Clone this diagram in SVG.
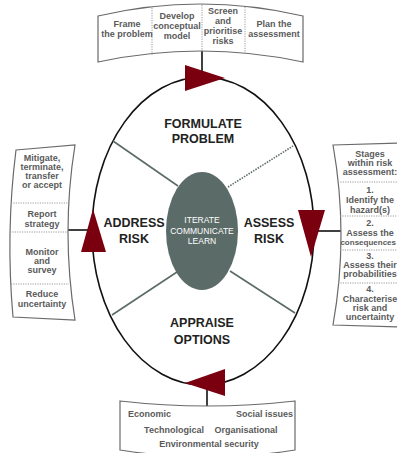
<svg xmlns="http://www.w3.org/2000/svg" width="397" height="453" viewBox="0 0 397 453">
<style>
.box{fill:#fff;stroke:#6a6a6a;stroke-width:1.2}
.dv{stroke:#9a9a9a;stroke-width:1;stroke-dasharray:1.2 1.2;fill:none}
.bt{font-family:"Liberation Sans",Arial,sans-serif;font-weight:bold;font-size:9px;fill:#5a5a5a;text-anchor:middle}
.big{font-family:"Liberation Sans",Arial,sans-serif;font-weight:bold;font-size:12.5px;fill:#222;text-anchor:middle}
.it{font-family:"Liberation Sans",Arial,sans-serif;font-size:8.5px;fill:#fff;text-anchor:middle}
.arrow{fill:#7a0010}
.spoke{stroke:#5b6b68;stroke-width:1.6}
.ln{stroke:#111;stroke-width:1.6}
</style>
<rect width="397" height="453" fill="#fff"/>
<g id="connectors">
<line class="ln" x1="202" y1="50" x2="202" y2="78"/>
<line class="ln" x1="207" y1="384" x2="207" y2="406"/>
<line class="ln" x1="66" y1="230" x2="92" y2="230"/>
<line class="ln" x1="316" y1="231" x2="342" y2="231"/>
</g>
<g id="cycle">
<ellipse cx="203" cy="231" rx="111" ry="154" fill="none" stroke="#111" stroke-width="1.6"/>
<line class="spoke" x1="113" y1="141" x2="178" y2="186"/>
<line class="spoke" x1="228" y1="187" x2="293" y2="146" stroke-dasharray="1.5 1.2"/>
<line class="spoke" x1="112" y1="315" x2="177" y2="272"/>
<line class="spoke" x1="230" y1="271" x2="295" y2="313"/>
</g>
<g id="centre">
<ellipse cx="202" cy="231" rx="36" ry="59" fill="#5b6b68"/>
<text class="it" x="202" y="223">ITERATE</text>
<text class="it" x="202" y="234">COMMUNICATE</text>
<text class="it" x="202" y="244">LEARN</text>
</g>
<g id="formulate"><text class="big" x="203" y="128">FORMULATE</text><text class="big" x="203" y="143">PROBLEM</text></g>
<g id="address"><text class="big" x="134" y="227">ADDRESS</text><text class="big" x="134" y="243">RISK</text></g>
<g id="assess"><text class="big" x="269" y="227">ASSESS</text><text class="big" x="269" y="243">RISK</text></g>
<g id="appraise"><text class="big" x="202" y="327">APPRAISE</text><text class="big" x="202" y="344">OPTIONS</text></g>
<g id="arrows">
<polygon class="arrow" points="185,65 185,91 225,78"/>
<polygon class="arrow" points="298,210 325,210 311,257"/>
<polygon class="arrow" points="225,369 225,396 185,383"/>
<polygon class="arrow" points="93,209 106,252 81,252"/>
</g>
<g id="top-box">
<path class="box" d="M98,16 Q200.5,-8 303,16 L303,62 Q200.5,40 98,62 Z"/>
<line class="dv" x1="152" y1="8" x2="152" y2="55"/>
<line class="dv" x1="202" y1="5" x2="202" y2="51"/>
<line class="dv" x1="245" y1="7" x2="245" y2="54"/>
<text class="bt" x="127" y="27">Frame</text><text class="bt" x="127" y="37">the problem</text>
<text class="bt" x="177" y="18.5">Develop</text><text class="bt" x="177" y="28.5">conceptual</text><text class="bt" x="177" y="39">model</text>
<text class="bt" x="223" y="14">Screen</text><text class="bt" x="223" y="24">and</text><text class="bt" x="223" y="34">prioritise</text><text class="bt" x="223" y="44">risks</text>
<text class="bt" x="274" y="27">Plan the</text><text class="bt" x="274" y="37">assessment</text>
</g>
<g id="left-box">
<path class="box" d="M16,150 L75,145 Q61,232 75,320 L13,317 Q5.5,233 16,150 Z"/>
<line class="dv" x1="11" y1="203" x2="69" y2="203"/>
<line class="dv" x1="10" y1="232" x2="68" y2="232"/>
<line class="dv" x1="11" y1="284" x2="69" y2="284"/>
<text class="bt" x="42" y="161">Mitigate,</text><text class="bt" x="42" y="170">terminate,</text><text class="bt" x="42" y="179">transfer</text><text class="bt" x="42" y="188">or accept</text>
<text class="bt" x="42" y="217">Report</text><text class="bt" x="42" y="227">strategy</text>
<text class="bt" x="42" y="255">Monitor</text><text class="bt" x="42" y="264">and</text><text class="bt" x="42" y="273">survey</text>
<text class="bt" x="42" y="297">Reduce</text><text class="bt" x="42" y="307">uncertainty</text>
</g>
<g id="right-box">
<path class="box" d="M333,145 L402,143 L402,327 L333,325 Q349,235 333,145 Z"/>
<line class="dv" x1="338" y1="182" x2="397" y2="182"/>
<line class="dv" x1="340" y1="216" x2="397" y2="216"/>
<line class="dv" x1="340" y1="250" x2="397" y2="250"/>
<line class="dv" x1="338" y1="283" x2="397" y2="283"/>
<text class="bt" x="370" y="157">Stages</text><text class="bt" x="370" y="166">within risk</text><text class="bt" x="370" y="175">assessment:</text>
<text class="bt" x="370" y="193">1.</text><text class="bt" x="370" y="203">Identify the</text><text class="bt" x="370" y="213">hazard(s)</text>
<text class="bt" x="370" y="226">2.</text><text class="bt" x="370" y="236">Assess the</text><text class="bt" x="396" y="245" style="text-anchor:end;font-size:8px">consequences</text>
<text class="bt" x="370" y="259">3.</text><text class="bt" x="370" y="268">Assess their</text><text class="bt" x="370" y="277">probabilities</text>
<text class="bt" x="370" y="292">4.</text><text class="bt" x="370" y="302">Characterise</text><text class="bt" x="370" y="311">risk and</text><text class="bt" x="370" y="320">uncertainty</text>
</g>
<g id="bottom-box">
<path class="box" d="M120,401 Q207.5,411 295,401 L295,450 Q207.5,464 120,450 Z"/>
<text class="bt" x="128" y="417" style="text-anchor:start">Economic</text>
<text class="bt" x="293" y="417" style="text-anchor:end">Social issues</text>
<text class="bt" x="174" y="433">Technological</text>
<text class="bt" x="246" y="433">Organisational</text>
<text class="bt" x="209" y="447">Environmental security</text>
</g>
</svg>
